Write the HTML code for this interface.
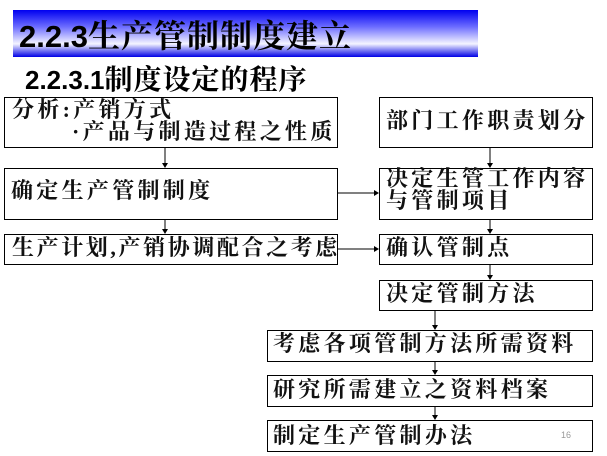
<!DOCTYPE html>
<html><head><meta charset="utf-8"><style>
body{margin:0;width:607px;height:456px;background:#fff;position:relative;overflow:hidden;font-family:"Liberation Serif","Noto Serif CJK SC",serif;}
.a{position:absolute;white-space:nowrap;}
.b{position:absolute;border:1.5px solid #000;box-sizing:border-box;background:#fff;}
.t{position:absolute;white-space:nowrap;font-size:22px;line-height:22px;letter-spacing:3.3px;font-weight:bold;color:#111;}
</style></head><body>
<div class="a" style="left:13px;top:10px;width:465px;height:47px;background:linear-gradient(#0000f0 0%,#6a6aff 35%,#f4f4ff 72%,#0000e6 100%);"></div>
<div class="a" style="left:19px;top:15px;font-size:31px;line-height:38px;font-weight:bold;font-family:'Liberation Sans','Noto Sans CJK SC',sans-serif;color:#000;">2.2.3<span style="font-family:'Noto Serif CJK SC',serif;font-size:32px;letter-spacing:1px;font-weight:bold;">生产管制制度建立</span></div>
<div class="a" style="left:25px;top:61px;font-size:26px;line-height:34px;font-weight:bold;font-family:'Liberation Sans','Noto Sans CJK SC',sans-serif;color:#000;">2.2.3.1<span style="font-family:'Noto Serif CJK SC',serif;font-size:28px;letter-spacing:1px;font-weight:bold;">制度设定的程序</span></div>

<div class="b" style="left:4px;top:97px;width:334px;height:51px;"></div>
<div class="b" style="left:379px;top:97px;width:214px;height:51px;"></div>
<div class="b" style="left:4px;top:168px;width:334px;height:52px;"></div>
<div class="b" style="left:379px;top:168px;width:214px;height:52px;"></div>
<div class="b" style="left:4px;top:234px;width:334px;height:31px;"></div>
<div class="b" style="left:379px;top:234px;width:214px;height:31px;"></div>
<div class="b" style="left:379px;top:280px;width:214px;height:31px;"></div>
<div class="b" style="left:267px;top:330px;width:326px;height:32px;"></div>
<div class="b" style="left:267px;top:375px;width:326px;height:32px;"></div>
<div class="b" style="left:267px;top:420px;width:326px;height:32px;"></div>

<svg class="a" style="left:0;top:0" width="607" height="456">
<g stroke="#000" stroke-width="1" fill="#000">
<line x1="165" y1="148" x2="165" y2="165"/><polygon points="162,163 168,163 165,168" stroke="none"/>
<line x1="165" y1="220" x2="165" y2="231"/><polygon points="162,229 168,229 165,234" stroke="none"/>
<line x1="490" y1="148" x2="490" y2="165"/><polygon points="487,163 493,163 490,168" stroke="none"/>
<line x1="490" y1="220" x2="490" y2="231"/><polygon points="487,229 493,229 490,234" stroke="none"/>
<line x1="490" y1="265" x2="490" y2="277"/><polygon points="487,275 493,275 490,280" stroke="none"/>
<line x1="435" y1="311" x2="435" y2="327"/><polygon points="432,325 438,325 435,330" stroke="none"/>
<line x1="435" y1="362" x2="435" y2="372"/><polygon points="432,370 438,370 435,375" stroke="none"/>
<line x1="435" y1="407" x2="435" y2="417"/><polygon points="432,415 438,415 435,420" stroke="none"/>
<line x1="338" y1="193" x2="376" y2="193"/><polygon points="374,190 374,196 379,193" stroke="none"/>
<line x1="338" y1="249" x2="376" y2="249"/><polygon points="374,246 374,252 379,249" stroke="none"/>
</g></svg>

<div class="t" style="left:12px;top:99px;">分析:产销方式</div>
<div class="t" style="left:72px;top:121px;">·产品与制造过程之性质</div>
<div class="t" style="left:386px;top:110px;">部门工作职责划分</div>
<div class="t" style="left:11px;top:180px;">确定生产管制制度</div>
<div class="t" style="left:386px;top:168px;">决定生管工作内容</div>
<div class="t" style="left:386px;top:190px;">与管制项目</div>
<div class="t" style="left:12px;top:237px;letter-spacing:2.6px;">生产计划,产销协调配合之考虑</div>
<div class="t" style="left:386px;top:237px;">确认管制点</div>
<div class="t" style="left:386px;top:283px;">决定管制方法</div>
<div class="t" style="left:273px;top:333px;">考虑各项管制方法所需资料</div>
<div class="t" style="left:273px;top:379px;">研究所需建立之资料档案</div>
<div class="t" style="left:273px;top:425px;">制定生产管制办法</div>
<div class="a" style="left:561px;top:430px;font-size:9px;line-height:10px;color:#999;font-family:'Liberation Sans',sans-serif;">16</div>
</body></html>
